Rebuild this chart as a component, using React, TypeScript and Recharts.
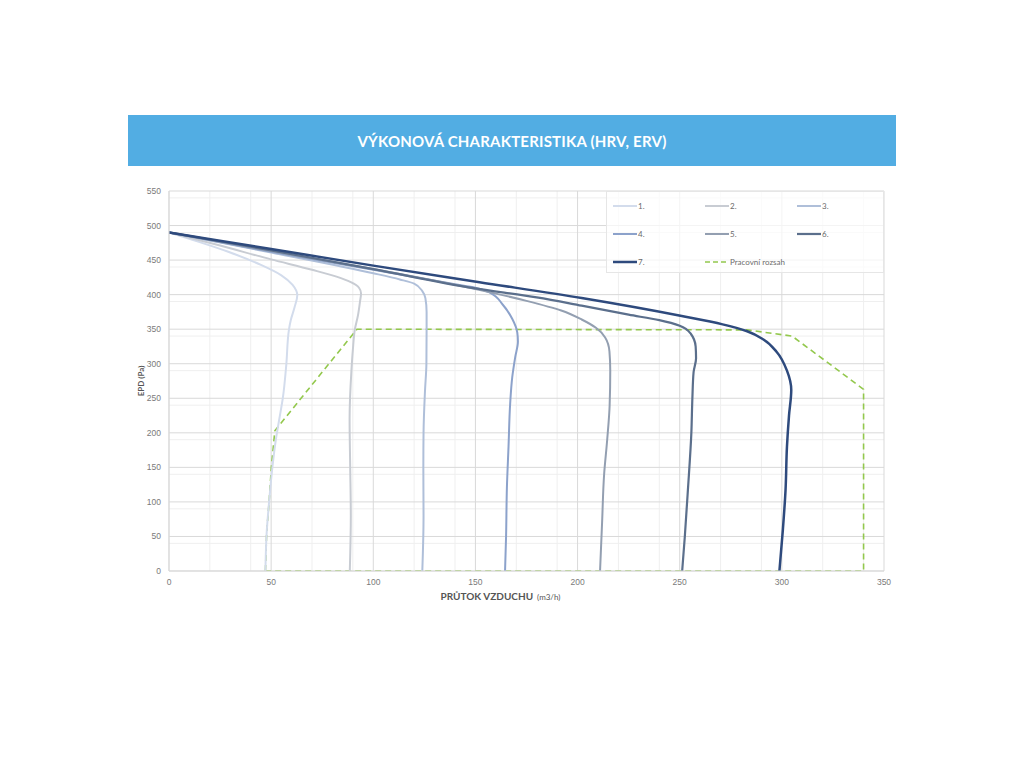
import React from "react";
import {
  LineChart,
  Line,
  XAxis,
  YAxis,
  CartesianGrid,
  Label,
} from "recharts";

// air flow (m3/h) vs external pressure (Pa)
const CURVE_1 = [
  { x: 0, y: 490 }, { x: 15, y: 476 }, { x: 29, y: 462 }, { x: 45, y: 443 },
  { x: 55, y: 428 }, { x: 60.5, y: 414 }, { x: 62.8, y: 399 }, { x: 61.5, y: 382 },
  { x: 59.6, y: 363 }, { x: 58.7, y: 349 }, { x: 57.4, y: 298 }, { x: 55.8, y: 252 },
  { x: 54, y: 220 }, { x: 52.3, y: 190 }, { x: 50.6, y: 150 }, { x: 49, y: 100 },
  { x: 47.8, y: 55 }, { x: 47.2, y: 0 },
];
const CURVE_2 = [
  { x: 0, y: 490 }, { x: 25, y: 471 }, { x: 50, y: 451 }, { x: 70, y: 436 },
  { x: 82, y: 426 }, { x: 89, y: 418 }, { x: 93, y: 410 }, { x: 94, y: 402 },
  { x: 93.5, y: 390 }, { x: 92.5, y: 370 }, { x: 91, y: 350 }, { x: 90, y: 320 },
  { x: 89.3, y: 290 }, { x: 88.4, y: 220 }, { x: 88.7, y: 150 }, { x: 89, y: 80 },
  { x: 88.5, y: 0 },
];
const CURVE_3 = [
  { x: 0, y: 490 }, { x: 50, y: 461 }, { x: 100, y: 431 }, { x: 113, y: 422 },
  { x: 120, y: 416 }, { x: 124, y: 405 }, { x: 125.5, y: 395 }, { x: 126.1, y: 375 },
  { x: 126.1, y: 350 }, { x: 126, y: 300 }, { x: 125.3, y: 260 }, { x: 124.6, y: 200 },
  { x: 124.5, y: 150 }, { x: 124.6, y: 80 }, { x: 124, y: 0 },
];
const CURVE_4 = [
  { x: 0, y: 490 }, { x: 50, y: 462 }, { x: 100, y: 436 }, { x: 140, y: 415 },
  { x: 150, y: 410 }, { x: 157, y: 403 }, { x: 163.5, y: 385 }, { x: 168, y: 365 },
  { x: 170.5, y: 345 }, { x: 170.8, y: 332 }, { x: 169.5, y: 310 }, { x: 168, y: 280 },
  { x: 167, y: 242 }, { x: 166.2, y: 180 }, { x: 165.4, y: 120 }, { x: 165, y: 50 },
  { x: 164.5, y: 0 },
];
const CURVE_5 = [
  { x: 0, y: 490 }, { x: 50, y: 463 }, { x: 100, y: 437 }, { x: 150, y: 408 },
  { x: 175, y: 391 }, { x: 192, y: 377 }, { x: 202, y: 364 }, { x: 209, y: 352 },
  { x: 213.5, y: 338 }, { x: 215.6, y: 318 }, { x: 216, y: 290 }, { x: 215.7, y: 240 },
  { x: 214.5, y: 190 }, { x: 213, y: 140 }, { x: 212, y: 70 }, { x: 211, y: 0 },
];
const CURVE_6 = [
  { x: 0, y: 490 }, { x: 50, y: 464 }, { x: 100, y: 437 }, { x: 150, y: 409 },
  { x: 180, y: 396 }, { x: 202, y: 384 }, { x: 225, y: 371 }, { x: 240, y: 363 },
  { x: 250, y: 355 }, { x: 255.5, y: 343 }, { x: 257.8, y: 325 }, { x: 258, y: 308 },
  { x: 256.8, y: 288 }, { x: 256.2, y: 250 }, { x: 255.7, y: 200 }, { x: 254, y: 117 },
  { x: 252.5, y: 50 }, { x: 251.2, y: 0 },
];
const CURVE_7 = [
  { x: 0, y: 490 }, { x: 50, y: 466 }, { x: 100, y: 442 }, { x: 152, y: 418 },
  { x: 202, y: 395 }, { x: 251, y: 369 }, { x: 271, y: 357 }, { x: 283, y: 347 },
  { x: 291, y: 335 }, { x: 297.5, y: 317 }, { x: 302.5, y: 290 }, { x: 304.6, y: 262 },
  { x: 303.5, y: 225 }, { x: 302.5, y: 180 }, { x: 301.8, y: 117 }, { x: 300.5, y: 60 },
  { x: 298.8, y: 0 },
];
// working range outline
const RANGE = [
  { x: 47.2, y: 0 }, { x: 47.8, y: 55 }, { x: 49, y: 100 }, { x: 50.1, y: 150 },
  { x: 51.8, y: 203 }, { x: 92, y: 350 }, { x: 283, y: 349 }, { x: 305, y: 340 },
  { x: 340, y: 263 }, { x: 340, y: 0 }, { x: 47.2, y: 0 },
];

const X_TICKS = [0, 50, 100, 150, 200, 250, 300, 350];
const Y_TICKS = [0, 50, 100, 150, 200, 250, 300, 350, 400, 450, 500, 550];
const X_MINOR = [10, 20, 30, 40, 60, 70, 80, 90, 110, 120, 130, 140, 160, 170, 180, 190, 210, 220, 230, 240, 260, 270, 280, 290, 310, 320, 330, 340];
const Y_MINOR = [10, 20, 30, 40, 60, 70, 80, 90, 110, 120, 130, 140, 160, 170, 180, 190, 210, 220, 230, 240, 260, 270, 280, 290, 310, 320, 330, 340, 360, 370, 380, 390, 410, 420, 430, 440, 460, 470, 480, 490, 510, 520, 530, 540];

const SERIES = [
  { name: "1.", data: CURVE_1, color: "#d3dcec", width: 2 },
  { name: "2.", data: CURVE_2, color: "#c8ccd3", width: 2 },
  { name: "3.", data: CURVE_3, color: "#afbfd9", width: 2 },
  { name: "4.", data: CURVE_4, color: "#8ca2cb", width: 2 },
  { name: "5.", data: CURVE_5, color: "#939fb1", width: 2 },
  { name: "6.", data: CURVE_6, color: "#5b6f8c", width: 2.2 },
  { name: "7.", data: CURVE_7, color: "#2e4a7d", width: 2.5 },
];
const RANGE_COLOR = "#93c84d";
const FONT = "Lato, 'Open Sans', sans-serif";

const tickStyle = { fill: "#7a7a7a", fontSize: 8.5, fontFamily: "Liberation Sans, Arial, sans-serif" };

function LegendBox() {
  const items = [
    ...SERIES.map((s) => ({ name: s.name, color: s.color, width: s.width, dashed: false })),
    { name: "Pracovní rozsah", color: RANGE_COLOR, width: 1.5, dashed: true },
  ];
  return (
    <div
      style={{
        background: "rgba(255,255,255,0.7)",
        border: "1px solid #e6e6e6",
        width: 278,
        height: 82,
        display: "grid",
        gridTemplateColumns: "92px 92px 92px",
        gridAutoRows: "28px",
        alignItems: "center",
        paddingLeft: 6,
        boxSizing: "border-box",
        fontFamily: FONT,
        fontSize: 8,
        color: "#6b6b6b",
      }}
    >
      {items.map((it) => (
        <div key={it.name} style={{ display: "flex", alignItems: "center" }}>
          <svg width={24} height={6}>
            <line
              x1={0}
              x2={24}
              y1={3}
              y2={3}
              stroke={it.color}
              strokeWidth={it.dashed ? 1.5 : it.width}
              strokeDasharray={it.dashed ? "5 3" : undefined}
            />
          </svg>
          <span style={{ marginLeft: 1 }}>{it.name}</span>
        </div>
      ))}
    </div>
  );
}

function XTitle(props: any) {
  const { viewBox } = props;
  const cx = viewBox.x + viewBox.width / 2 - 26;
  return (
    <text x={cx} y={viewBox.y + 29} textAnchor="middle" fill="#555" fontFamily={FONT}>
      <tspan fontSize={10} fontWeight={700}>PRŮTOK VZDUCHU</tspan>
      <tspan fontSize={8} dx={4}>(m3/h)</tspan>
    </text>
  );
}

export default function App() {
  return (
    <div style={{ position: "relative", width: 1008, height: 752 }}>
      <div
        style={{
          position: "absolute",
          left: 120,
          top: 107,
          width: 768,
          height: 51,
          background: "#52ade3",
          color: "#fff",
          display: "flex",
          alignItems: "center",
          justifyContent: "center",
          fontFamily: FONT,
          fontWeight: 700,
          fontSize: 15,
          letterSpacing: 0.2,
        }}
      >
        VÝKONOVÁ CHARAKTERISTIKA (HRV, ERV)
      </div>
      <div style={{ position: "absolute", left: 120, top: 172 }}>
        <LineChart width={768} height={440} margin={{ top: 11, right: 12, bottom: 29, left: 11 }}>
          <CartesianGrid stroke="#efefef" verticalValues={X_MINOR} horizontalValues={Y_MINOR} />
          <CartesianGrid stroke="#d9d9d9" />
          <XAxis
            type="number"
            dataKey="x"
            domain={[0, 350]}
            ticks={X_TICKS}
            tick={tickStyle}
            tickLine={false}
            axisLine={{ stroke: "#d9d9d9" }}
            height={20}
            allowDataOverflow
          >
            <Label content={<XTitle />} />
          </XAxis>
          <YAxis
            type="number"
            dataKey="y"
            domain={[0, 550]}
            ticks={Y_TICKS}
            tick={tickStyle}
            tickLine={false}
            axisLine={{ stroke: "#d9d9d9" }}
            width={30}
            allowDataOverflow
          >
            <Label
              value="EPD (Pa)"
              angle={-90}
              position="insideLeft"
              offset={2}
              style={{ fill: "#555", fontSize: 8, fontWeight: 700, fontFamily: FONT, textAnchor: "middle" }}
            />
          </YAxis>
          <Line
            name="Pracovní rozsah"
            data={RANGE}
            dataKey="y"
            type="linear"
            stroke={RANGE_COLOR}
            strokeWidth={1.6}
            strokeDasharray="6 4"
            dot={false}
            activeDot={false}
            isAnimationActive={false}
          />
          {SERIES.map((s) => (
            <Line
              key={s.name}
              name={s.name}
              data={s.data}
              dataKey="y"
              type="monotoneY"
              stroke={s.color}
              strokeWidth={s.width}
              dot={false}
              activeDot={false}
              isAnimationActive={false}
            />
          ))}
        </LineChart>
      </div>
      <div style={{ position: "absolute", left: 598, top: 183 }}>
        <LegendBox />
      </div>
    </div>
  );
}
